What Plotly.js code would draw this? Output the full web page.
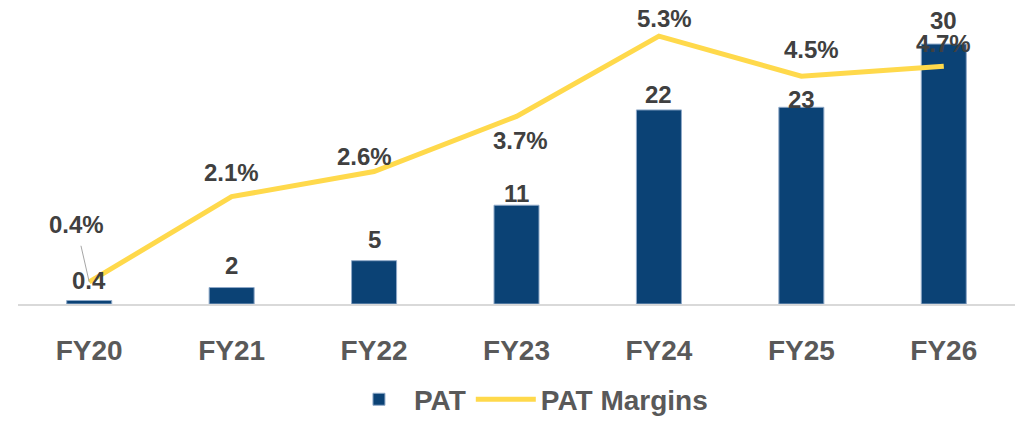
<!DOCTYPE html>
<html>
<head>
<meta charset="utf-8">
<script src="https://cdn.plot.ly/plotly-3.0.1.min.js"></script>
<style>
  html, body { margin: 0; padding: 0; background: #ffffff; }
  #chart { width: 1020px; height: 430px; }
</style>
</head>
<body>
<div id="chart"></div>
<script>
// ---- data ----
const categories = ['FY20', 'FY21', 'FY22', 'FY23', 'FY24', 'FY25', 'FY26'];
const patValues = [0.4, 1.9, 5.0, 11.4, 22.4, 22.7, 30.0];
const patLabels = ['0.4', '2', '5', '11', '22', '23', '30'];
const marginValues = [0.4, 2.1, 2.6, 3.7, 5.3, 4.5, 4.7];
const marginLabels = ['0.4%', '2.1%', '2.6%', '3.7%', '5.3%', '4.5%', '4.7%'];

// ---- label placement (pixel offsets, style only; positive = up) ----
const barLabelShift = [20, 22, 21, 12, 15, 8, 24];
const lineLabelShiftX = [0, 0, -10, 4, 6, 10, 0];
const lineLabelShiftY = [0, 24, 15, -24, 18, 27, 23];

const FONT = '"Liberation Sans", Arial, sans-serif';
const BAR_COLOR = '#0B4275';
const LINE_COLOR = '#FFD94B';

const traces = [
  {
    type: 'bar',
    name: 'PAT',
    x: categories,
    y: patValues,
    marker: { color: BAR_COLOR, line: { color: '#8FA9C8', width: 1 } },
    hoverinfo: 'skip'
  },
  {
    type: 'scatter',
    mode: 'lines',
    name: 'PAT Margins',
    x: categories,
    y: marginValues,
    yaxis: 'y2',
    line: { color: LINE_COLOR, width: 5 },
    hoverinfo: 'skip'
  }
];

const annotations = [];
categories.forEach((c, i) => {
  annotations.push({
    xref: 'x', yref: 'y', x: c, y: patValues[i],
    text: patLabels[i], showarrow: false,
    yshift: barLabelShift[i],
    font: { family: FONT, size: 24, color: '#404040', weight: 'bold' }
  });
  if (i === 0) {
    annotations.push({
      xref: 'x', yref: 'y2', x: c, y: marginValues[i],
      text: marginLabels[i], showarrow: true,
      ax: -13, ay: -57, arrowhead: 0, arrowwidth: 1, arrowcolor: '#A6A6A6',
      startstandoff: 6,
      font: { family: FONT, size: 24, color: '#404040', weight: 'bold' }
    });
  } else {
    annotations.push({
      xref: 'x', yref: 'y2', x: c, y: marginValues[i],
      text: marginLabels[i], showarrow: false,
      xshift: lineLabelShiftX[i], yshift: lineLabelShiftY[i],
      font: { family: FONT, size: 24, color: '#404040', weight: 'bold' }
    });
  }
});

const layout = {
  width: 1020,
  height: 430,
  margin: { l: 18, r: 5, t: 10, b: 118 },
  paper_bgcolor: '#ffffff',
  plot_bgcolor: '#ffffff',
  bargap: 0.684,
  showlegend: true,
  legend: {
    orientation: 'h',
    x: 0.512, xanchor: 'center',
    y: -0.325, yanchor: 'middle',
    font: { family: FONT, size: 28, color: '#595959', weight: 'bold' },
    itemwidth: 60,
    traceorder: 'normal'
  },
  xaxis: {
    type: 'category',
    showgrid: false,
    zeroline: false,
    showline: true,
    linecolor: '#D9D9D9',
    linewidth: 2,
    ticks: '',
    ticklabelstandoff: 20,
    tickfont: { family: FONT, size: 28, color: '#595959', weight: 'bold' },
    fixedrange: true
  },
  yaxis: {
    range: [0, 33.93],
    visible: false,
    showgrid: false,
    zeroline: false,
    fixedrange: true
  },
  yaxis2: {
    range: [-0.04, 5.82],
    overlaying: 'y',
    side: 'right',
    visible: false,
    showgrid: false,
    zeroline: false,
    fixedrange: true
  },
  annotations: annotations
};

Plotly.newPlot('chart', traces, layout, { displayModeBar: false, staticPlot: true });
</script>
</body>
</html>
